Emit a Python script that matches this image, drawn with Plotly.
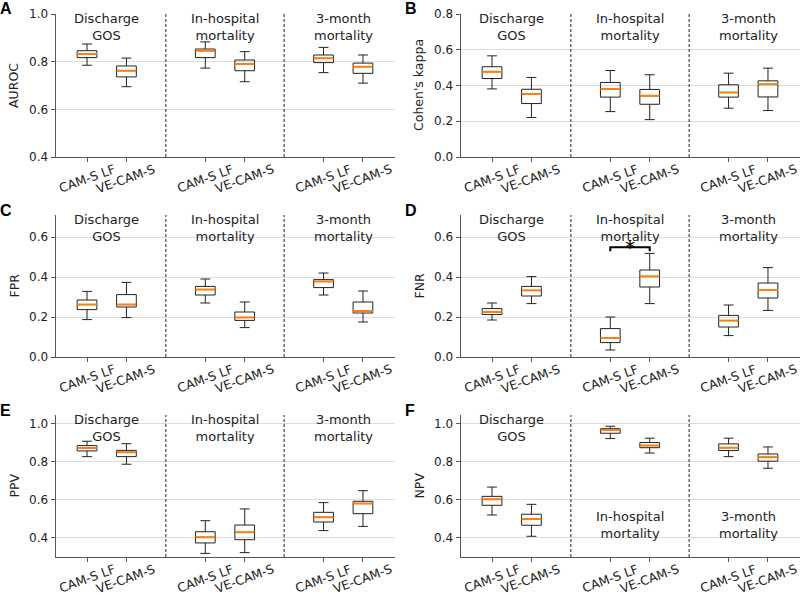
import plotly.graph_objects as go

# ---------------- data ----------------
groups = ["Discharge<br>GOS", "In-hospital<br>mortality", "3-month<br>mortality"]
methods = ["CAM-S LF", "VE-CAM-S"]
panel_letters = ["A", "B", "C", "D", "E", "F"]
metric_names = ["AUROC", "Cohen's kappa", "FPR", "FNR", "PPV", "NPV"]

# box order: [Discharge LF, Discharge VE, In-hosp LF, In-hosp VE, 3-month LF, 3-month VE]
auroc_low = [0.785, 0.695, 0.773, 0.716, 0.754, 0.710]
auroc_q1 = [0.817, 0.736, 0.817, 0.762, 0.796, 0.751]
auroc_med = [0.832, 0.762, 0.846, 0.790, 0.814, 0.779]
auroc_q3 = [0.846, 0.782, 0.853, 0.807, 0.828, 0.794]
auroc_high = [0.874, 0.815, 0.883, 0.842, 0.860, 0.828]

kappa_low = [0.381, 0.221, 0.254, 0.209, 0.273, 0.260]
kappa_q1 = [0.439, 0.299, 0.335, 0.295, 0.335, 0.336]
kappa_med = [0.477, 0.353, 0.381, 0.342, 0.361, 0.407]
kappa_q3 = [0.505, 0.379, 0.417, 0.378, 0.404, 0.426]
kappa_high = [0.566, 0.445, 0.484, 0.460, 0.469, 0.497]

fpr_low = [0.187, 0.197, 0.270, 0.147, 0.310, 0.175]
fpr_q1 = [0.237, 0.250, 0.310, 0.183, 0.347, 0.220]
fpr_med = [0.262, 0.262, 0.337, 0.198, 0.378, 0.230]
fpr_q3 = [0.285, 0.312, 0.353, 0.225, 0.387, 0.275]
fpr_high = [0.328, 0.373, 0.390, 0.275, 0.420, 0.330]

fnr_low = [0.185, 0.267, 0.035, 0.267, 0.107, 0.233]
fnr_q1 = [0.212, 0.305, 0.072, 0.350, 0.150, 0.295]
fnr_med = [0.225, 0.333, 0.095, 0.403, 0.182, 0.335]
fnr_q3 = [0.242, 0.353, 0.142, 0.435, 0.208, 0.370]
fnr_high = [0.270, 0.402, 0.200, 0.518, 0.260, 0.447]

ppv_low = [0.828, 0.788, 0.319, 0.323, 0.439, 0.461]
ppv_q1 = [0.858, 0.828, 0.374, 0.391, 0.484, 0.528]
ppv_med = [0.874, 0.851, 0.404, 0.430, 0.509, 0.581]
ppv_q3 = [0.886, 0.861, 0.433, 0.468, 0.535, 0.593]
ppv_high = [0.909, 0.896, 0.491, 0.553, 0.586, 0.649]

npv_low = [0.521, 0.409, 0.923, 0.847, 0.828, 0.767]
npv_q1 = [0.572, 0.467, 0.951, 0.875, 0.860, 0.804]
npv_med = [0.604, 0.500, 0.968, 0.886, 0.875, 0.825]
npv_q3 = [0.619, 0.525, 0.975, 0.902, 0.895, 0.842]
npv_high = [0.668, 0.577, 0.988, 0.925, 0.925, 0.879]

stats = [
    (auroc_low, auroc_q1, auroc_med, auroc_q3, auroc_high),
    (kappa_low, kappa_q1, kappa_med, kappa_q3, kappa_high),
    (fpr_low, fpr_q1, fpr_med, fpr_q3, fpr_high),
    (fnr_low, fnr_q1, fnr_med, fnr_q3, fnr_high),
    (ppv_low, ppv_q1, ppv_med, ppv_q3, ppv_high),
    (npv_low, npv_q1, npv_med, npv_q3, npv_high),
]
y_ranges = [[0.4, 1.0], [0.0, 0.8], [0.0, 0.71], [0.0, 0.71], [0.3, 1.047], [0.3, 1.047]]
y_ticks = [[0.4, 0.6, 0.8, 1.0], [0.0, 0.2, 0.4, 0.6, 0.8], [0.0, 0.2, 0.4, 0.6],
           [0.0, 0.2, 0.4, 0.6], [0.4, 0.6, 0.8, 1.0], [0.4, 0.6, 0.8, 1.0]]
# significance bracket (panel D, In-hospital mortality)
sig_panel = 3
sig_group = 1
sig_level = 0.549

# ---------------- layout helpers ----------------
W, H = 800, 595
x_doms = [[55.5 / W, 394.5 / W], [460.5 / W, 799.5 / W]]
row_px = [(14, 157), (215, 357), (415, 557)]
y_doms = [[1 - b / H, 1 - t / H] for t, b in row_px]

positions = [1 + 3 * g + m for g in range(len(groups)) for m in range(len(methods))]
separators = [3 * (g + 1) for g in range(len(groups) - 1)]
BOXW = 0.5
FONT = "DejaVu Sans"
TXT = "#222222"
SPINE = "#555555"

fig = go.Figure()
layout = dict(width=W, height=H, margin=dict(l=0, r=0, t=0, b=0, autoexpand=False),
              paper_bgcolor="white", plot_bgcolor="white", showlegend=False,
              font=dict(family=FONT, size=12, color=TXT))
annotations = []
shapes = []

for i in range(6):
    row, col = divmod(i, 2)
    xa = "x" if i == 0 else f"x{i+1}"
    ya = "y" if i == 0 else f"y{i+1}"
    lo, q1, med, q3, hi = stats[i]
    fig.add_trace(go.Box(
        x=positions, lowerfence=lo, q1=q1, median=med, q3=q3, upperfence=hi,
        width=BOXW, whiskerwidth=0.5, boxpoints=False,
        line=dict(color="#222222", width=1), fillcolor="rgba(0,0,0,0)",
        xaxis=xa, yaxis=ya, hoverinfo="skip"))
    mx, my = [], []
    for p, m in zip(positions, med):
        mx += [p - BOXW / 2, p + BOXW / 2, None]
        my += [m, m, None]
    fig.add_trace(go.Scatter(x=mx, y=my, mode="lines",
                             line=dict(color="#ff7f0e", width=2),
                             xaxis=xa, yaxis=ya, hoverinfo="skip"))

    xkey = "xaxis" if i == 0 else f"xaxis{i+1}"
    ykey = "yaxis" if i == 0 else f"yaxis{i+1}"
    layout[xkey] = dict(domain=x_doms[col], anchor=ya, range=[0.2, 8.8],
                        automargin=False,
                        showgrid=False, zeroline=False, showline=True,
                        linecolor=SPINE, linewidth=1, ticks="outside",
                        ticklen=4, tickcolor=SPINE, tickvals=positions,
                        showticklabels=False)
    layout[ykey] = dict(domain=y_doms[row], anchor=xa, range=y_ranges[i],
                        automargin=False,
                        showgrid=True, gridcolor="#dcdcdc", gridwidth=1,
                        zeroline=False, showline=True, linecolor=SPINE,
                        linewidth=1, ticks="outside", ticklen=4,
                        tickcolor=SPINE, tickvals=y_ticks[i],
                        tickformat=".1f", tickfont=dict(size=12, color=TXT))

    # separators
    for s in separators:
        shapes.append(dict(type="line", xref=xa, yref=f"{ya} domain",
                           x0=s, x1=s, y0=0, y1=1,
                           line=dict(color="#222222", width=1, dash="3px,2px")))

    # group titles
    for g, name in enumerate(groups):
        at_bottom = (i == 5 and g > 0)
        annotations.append(dict(
            text=name, xref=xa, yref=f"{ya} domain",
            x=positions[2 * g] + 0.5, y=0.35 if at_bottom else 1.036,
            xanchor="center", yanchor="top", showarrow=False,
            font=dict(size=13, color=TXT, family=FONT)))

    # x tick labels (rotated, centred under ticks)
    for k, p in enumerate(positions):
        annotations.append(dict(
            text=methods[k % 2], xref=xa, yref=f"{ya} domain",
            x=p, y=-22 / 143, xanchor="center", yanchor="middle",
            textangle=-20, showarrow=False,
            font=dict(size=12.5, color=TXT, family=FONT)))

    # y-axis title
    xd = x_doms[col][0] * W
    yd = (row_px[row][0] + row_px[row][1]) / 2
    annotations.append(dict(
        text=metric_names[i], xref="paper", yref="paper",
        x=(xd - 42) / W, y=1 - yd / H, xanchor="center", yanchor="middle",
        textangle=-90, showarrow=False,
        font=dict(size=12.5, color=TXT, family=FONT)))

    # panel letter
    annotations.append(dict(
        text=f"<b>{panel_letters[i]}</b>", xref="paper", yref="paper",
        x=(xd - 57.5) / W, y=1 - (row_px[row][0] - 5) / H,
        xanchor="left", yanchor="middle", showarrow=False,
        font=dict(size=16, color="black", family="Liberation Sans")))

# significance bracket in panel D
xa_s = f"x{sig_panel+1}"
ya_s = f"y{sig_panel+1}"
p0, p1 = positions[2 * sig_group], positions[2 * sig_group + 1]
fig.add_trace(go.Scatter(x=[p0, p0, p1, p1],
                         y=[sig_level - 0.02, sig_level, sig_level, sig_level - 0.02],
                         mode="lines", line=dict(color="black", width=2),
                         xaxis=xa_s, yaxis=ya_s, hoverinfo="skip"))
annotations.append(dict(text="*", xref=xa_s, yref=ya_s, x=(p0 + p1) / 2,
                        y=sig_level + 0.003, xanchor="center", yanchor="middle",
                        showarrow=False,
                        font=dict(size=20, color="black", family=FONT)))

layout["annotations"] = annotations
layout["shapes"] = shapes
fig.update_layout(**layout)
fig.write_html("out.html", config={"displayModeBar": False, "staticPlot": True},
               post_script="document.body.style.margin='0';document.body.style.overflow='hidden';")
